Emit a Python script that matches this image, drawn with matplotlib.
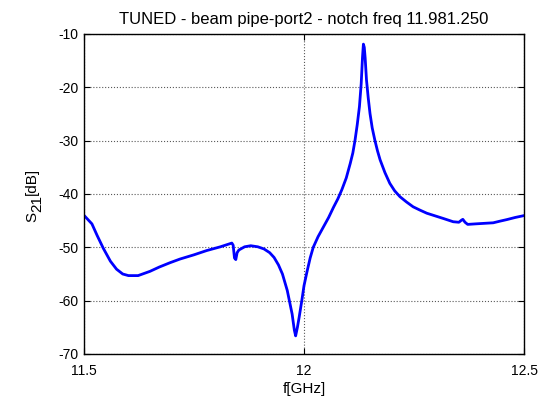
import numpy as np
import matplotlib.pyplot as plt

plt.rcParams['font.family'] = ['Liberation Sans', 'DejaVu Sans']
plt.rcParams['font.size'] = 10
plt.rcParams['axes.unicode_minus'] = False

# S21 trace (f in GHz, S21 in dB)
freq = [11.500, 11.518, 11.530, 11.544, 11.560, 11.574, 11.588, 11.601, 11.623, 11.650,
        11.671, 11.695, 11.718, 11.750, 11.779, 11.810, 11.836, 11.839, 11.842, 11.845,
        11.848, 11.852, 11.865, 11.879, 11.895, 11.909, 11.922, 11.932, 11.942, 11.951,
        11.962, 11.973, 11.978, 11.981, 11.985, 11.989, 11.995, 12.000, 12.007, 12.014,
        12.021, 12.032, 12.044, 12.056, 12.067, 12.077, 12.086, 12.096, 12.105, 12.111,
        12.116, 12.121, 12.126, 12.130, 12.133, 12.135, 12.137, 12.139, 12.142, 12.146,
        12.150, 12.155, 12.161, 12.167, 12.173, 12.184, 12.195, 12.206, 12.218, 12.233,
        12.248, 12.263, 12.279, 12.298, 12.317, 12.339, 12.352, 12.358, 12.361, 12.366,
        12.372, 12.390, 12.410, 12.430, 12.445, 12.461, 12.480, 12.500]
s21 = [-44.0, -45.6, -47.8, -50.2, -52.6, -54.1, -55.0, -55.3, -55.3, -54.5,
       -53.7, -52.9, -52.2, -51.4, -50.6, -49.9, -49.2, -49.6, -52.0, -52.3,
       -51.0, -50.5, -49.9, -49.7, -49.9, -50.3, -51.0, -51.9, -53.3, -55.0,
       -58.1, -62.5, -65.5, -66.6, -65.0, -63.1, -60.0, -57.2, -54.5, -52.0,
       -50.0, -48.0, -46.2, -44.4, -42.5, -40.9, -39.2, -37.0, -34.3, -32.3,
       -29.9, -27.0, -23.6, -19.3, -14.3, -11.9, -12.5, -14.5, -18.6, -22.0,
       -24.9, -27.6, -29.9, -31.9, -33.6, -36.0, -38.0, -39.4, -40.5, -41.5,
       -42.4, -43.0, -43.6, -44.1, -44.6, -45.2, -45.3, -44.9, -44.75, -45.3,
       -45.7, -45.6, -45.5, -45.4, -45.1, -44.8, -44.4, -44.05]

xticks = [11.5, 12, 12.5]
xticklabels = ['11.5', '12', '12.5']
yticks = [-70, -60, -50, -40, -30, -20, -10]

fig = plt.figure(figsize=(5.43, 4.04), dpi=100)
ax = fig.add_axes([84/543, 50/404, 440/543, 320/404])

ax.plot(freq, s21, '-', color=(0, 0, 1), lw=2)

ax.set_xlim([11.5, 12.5])
ax.set_ylim([-70, -10])
ax.set_xticks(xticks)
ax.set_xticklabels(xticklabels)
ax.set_yticks(yticks)
ax.grid(True, linestyle=':', color='0.35', lw=0.8)
ax.tick_params(direction='in', top=True, right=True, length=4, width=0.8)
ax.tick_params(axis='x', pad=7)
ax.tick_params(axis='y', pad=4)
for sp in ax.spines.values():
    sp.set_linewidth(1.0)

ax.set_xlabel('f[GHz]', fontsize=11, labelpad=3)
ax.set_title('TUNED - beam pipe-port2 - notch freq 11.981.250', pad=7)

# y label built in pieces: MATLAB draws the subscript at full size, just lowered
tS = fig.text(32/543, (404-222)/404, 'S', rotation=90, ha='center', va='bottom', fontsize=11)
t21 = ax.annotate('21', xy=(0.5, 1), xycoords=tS, xytext=(4, 0), textcoords='offset points',
                  rotation=90, ha='center', va='bottom', fontsize=11)
tdB = ax.annotate('[dB]', xy=(0.5, 1), xycoords=t21, xytext=(-4, 0), textcoords='offset points',
                  rotation=90, ha='center', va='bottom', fontsize=11)

plt.savefig('out.png', dpi=100)
